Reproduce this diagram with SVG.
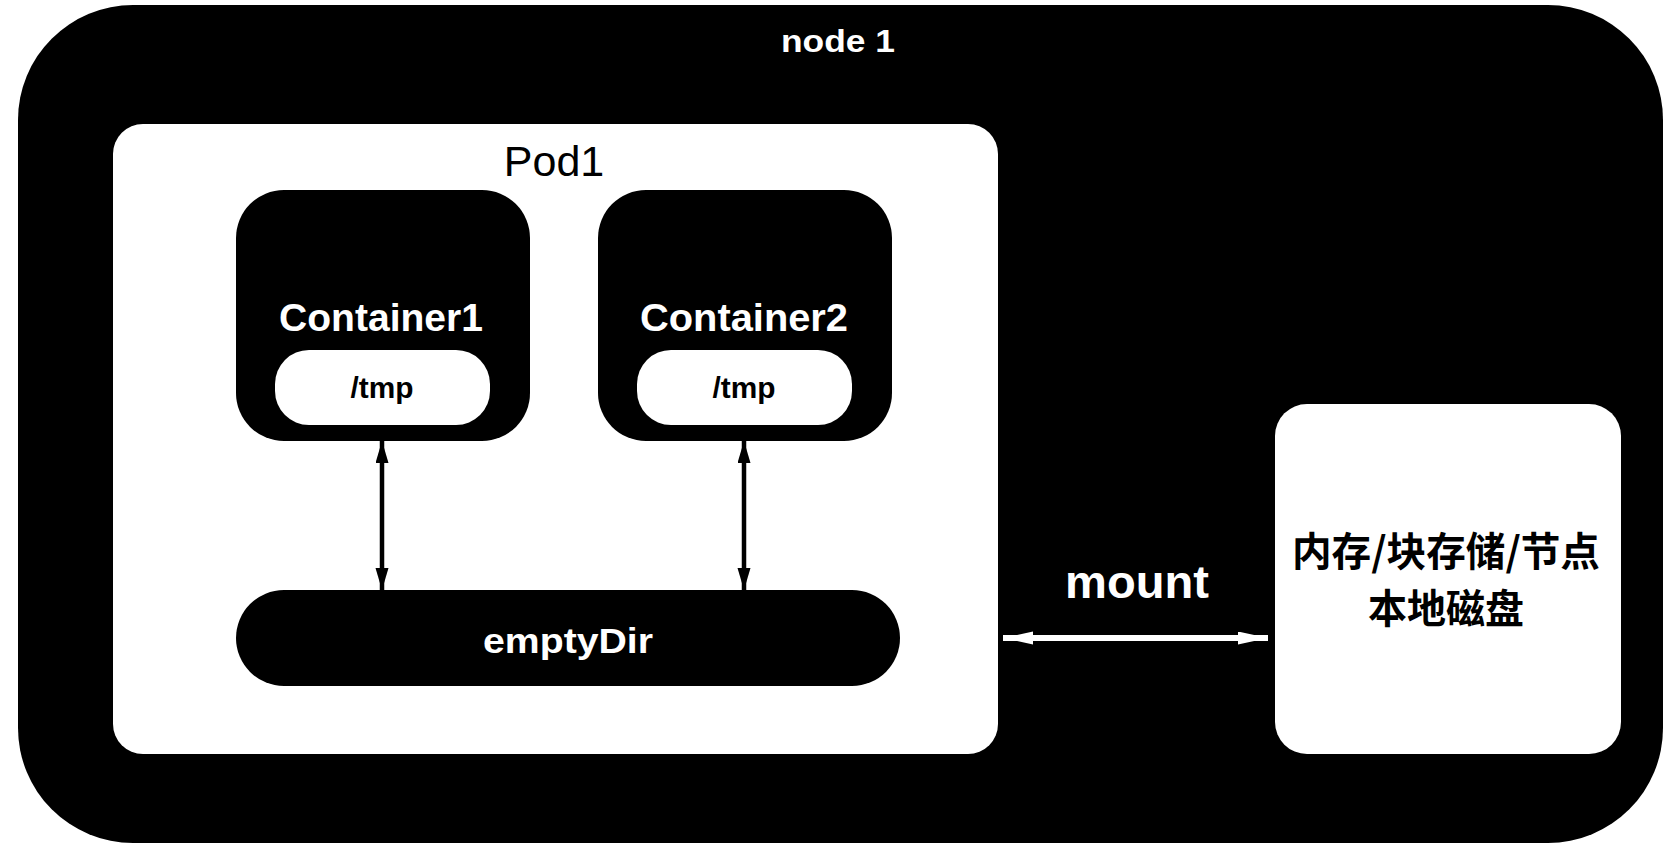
<svg xmlns="http://www.w3.org/2000/svg" width="1674" height="858" viewBox="0 0 1674 858">
<style>
.blk{fill:#000}
.wht{fill:#fff}
.tb{font-family:"Liberation Sans",Arial,"Noto Sans CJK SC",sans-serif;font-weight:bold;text-anchor:middle}
.tr{font-family:"Liberation Sans",Arial,sans-serif;text-anchor:middle}
.cjk{font-family:"Noto Sans CJK SC",sans-serif;font-weight:bold;text-anchor:middle}
</style>
<defs>
<marker id="ab" markerUnits="userSpaceOnUse" markerWidth="24" markerHeight="14" refX="22" refY="6.5" orient="auto-start-reverse">
<path d="M0,0 L22,6.5 L0,13 Z" fill="#000"/>
</marker>
<marker id="aw" markerUnits="userSpaceOnUse" markerWidth="32" markerHeight="14" refX="30" refY="6.5" orient="auto-start-reverse">
<path d="M0,0 L30,6.5 L0,13 Z" fill="#fff"/>
</marker>
</defs>
<rect width="1674" height="858" fill="#fff"/>
<g id="node1">
<rect class="blk" x="18" y="5" width="1645" height="838" rx="115" ry="115"/>
<text class="tb" x="838" y="52" font-size="32" fill="#fff" textLength="114" lengthAdjust="spacingAndGlyphs">node 1</text>
</g>
<g id="pod1">
<rect class="wht" x="113" y="124" width="885" height="630" rx="30" ry="30"/>
<text class="tr" x="554" y="176" font-size="43" fill="#000">Pod1</text>
</g>
<g id="container1">
<rect class="blk" x="236" y="190" width="294" height="251" rx="48" ry="48"/>
<text class="tb" x="381" y="331" font-size="38" fill="#fff" textLength="204" lengthAdjust="spacingAndGlyphs">Container1</text>
<rect class="wht" x="275" y="350" width="215" height="75" rx="34" ry="34"/>
<text class="tb" x="382" y="398" font-size="29" fill="#000" textLength="63" lengthAdjust="spacingAndGlyphs">/tmp</text>
</g>
<g id="container2">
<rect class="blk" x="598" y="190" width="294" height="251" rx="48" ry="48"/>
<text class="tb" x="744" y="331" font-size="38" fill="#fff" textLength="208" lengthAdjust="spacingAndGlyphs">Container2</text>
<rect class="wht" x="637" y="350" width="215" height="75" rx="34" ry="34"/>
<text class="tb" x="744" y="398" font-size="29" fill="#000" textLength="63" lengthAdjust="spacingAndGlyphs">/tmp</text>
</g>
<g id="emptyDir">
<rect class="blk" x="236" y="590" width="664" height="96" rx="48" ry="48"/>
<text class="tb" x="568" y="653" font-size="35" fill="#fff" textLength="170" lengthAdjust="spacingAndGlyphs">emptyDir</text>
</g>
<g id="storage">
<rect class="wht" x="1275" y="404" width="346" height="350" rx="32" ry="32"/>
<text class="cjk" x="1446" y="566" font-size="40" fill="#000" textLength="308" lengthAdjust="spacingAndGlyphs">内存/块存储/节点</text>
<text class="cjk" x="1446" y="623" font-size="40" fill="#000" textLength="156" lengthAdjust="spacingAndGlyphs">本地磁盘</text>
</g>
<g id="connectors">
<line x1="382" y1="441" x2="382" y2="590" stroke="#000" stroke-width="4.5" marker-start="url(#ab)" marker-end="url(#ab)"/>
<line x1="744" y1="441" x2="744" y2="590" stroke="#000" stroke-width="4.5" marker-start="url(#ab)" marker-end="url(#ab)"/>
<line x1="1003" y1="638" x2="1268" y2="638" stroke="#fff" stroke-width="6" marker-start="url(#aw)" marker-end="url(#aw)"/>
<text class="tb" x="1137" y="598" font-size="46" fill="#fff" textLength="144" lengthAdjust="spacingAndGlyphs">mount</text>
</g>
</svg>
